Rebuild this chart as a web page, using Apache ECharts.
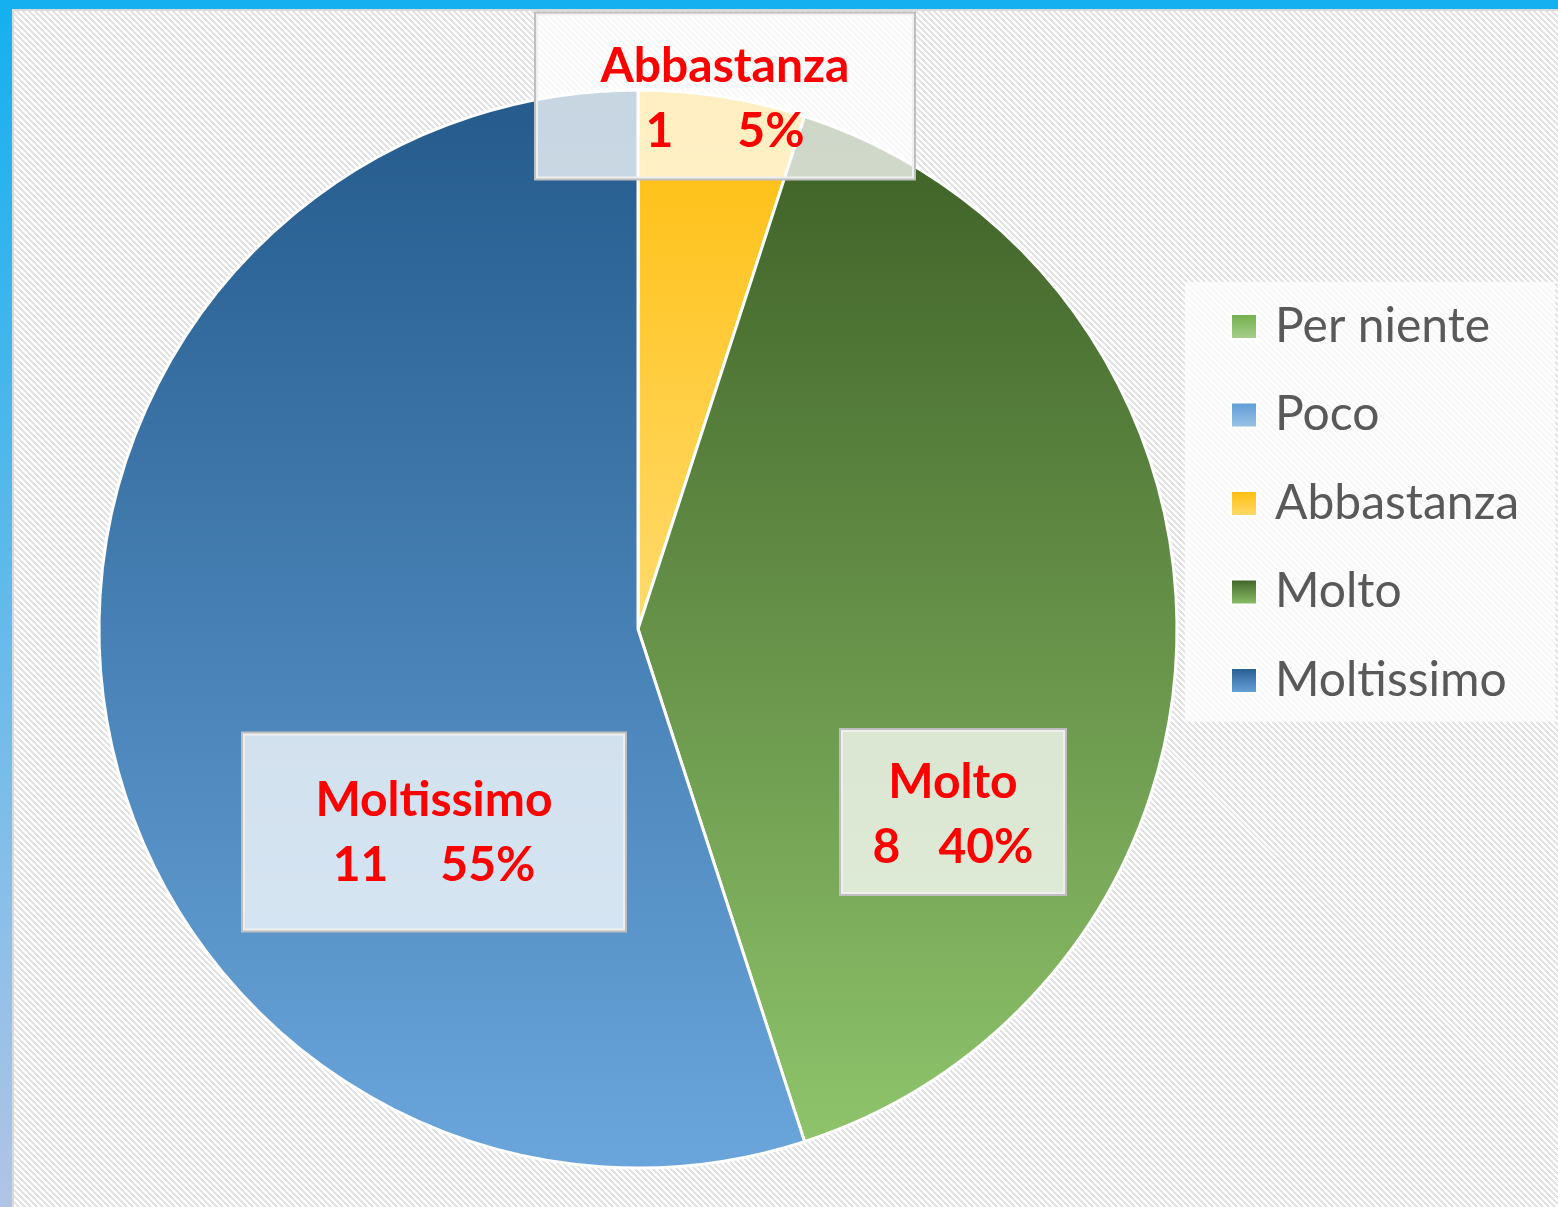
<!DOCTYPE html>
<html>
<head>
<meta charset="utf-8">
<script src="https://cdn.jsdelivr.net/npm/echarts@6/dist/echarts.min.js"></script>
<style>
  html, body { margin: 0; padding: 0; }
  #wrap { position: relative; width: 1558px; height: 1207px; overflow: hidden;
    background: repeating-linear-gradient(45deg, #e3e3e3 0px, #e3e3e3 2.12px, #ffffff 2.12px, #ffffff 4.24px); }
  #chart { position: absolute; left: 0; top: 0; width: 1558px; height: 1207px; }
  .bar-top { position: absolute; left: 0; top: 0; width: 1558px; height: 9px; background: #14b0ef; }
  .bar-left { position: absolute; left: 0; top: 0; width: 12px; height: 1207px; background: linear-gradient(to bottom, #14b0ef, #b1c4e6); }
  .line-top { position: absolute; left: 12px; top: 9px; width: 1546px; height: 2px; background: #d9d9d9; }
  .line-left { position: absolute; left: 12px; top: 9px; width: 2px; height: 1198px; background: #d9d9d9; }
</style>
</head>
<body>
<div id="wrap">
  <div id="chart"></div>
  <div class="line-top"></div>
  <div class="line-left"></div>
  <div class="bar-top"></div>
  <div class="bar-left"></div>
</div>
<script>
// ---- data ----
const categories = ['Per niente', 'Poco', 'Abbastanza', 'Molto', 'Moltissimo'];
const counts = [0, 0, 1, 8, 11];

// ---- styles ----
const gradTop = ['#70ad47', '#5b9bd5', '#ffbd0a', '#3d5f26', '#245a8c'];
const gradBottom = ['#a9d18e', '#9dc3e6', '#ffdb6e', '#8fc46b', '#6aa6dc'];
// label box centres as offsets from the pie centre, and gap between value and percent
const pieCenter = [638, 629];
const labelOffsets = { 2: [87, -533], 3: [315, 183], 4: [-204, 203] };
const labelBoxes = {
  2: { width: 378, padding: [21, 0, 14, 0], gap: 64 },
  3: { width: 224, padding: [20, 0, 14, 0], gap: 38 },
  4: { width: 382, padding: [35, 0, 32, 0], gap: 52 }
};

function grad(i) {
  return new echarts.graphic.LinearGradient(0, 0, 0, 1, [
    { offset: 0, color: gradTop[i] },
    { offset: 1, color: gradBottom[i] }
  ]);
}

const total = counts.reduce((a, b) => a + b, 0);
const pieData = categories.map((name, i) => {
  const item = { name: name, value: counts[i], itemStyle: { color: grad(i) } };
  if (counts[i] === 0) {
    item.label = { show: false };
  } else {
    const b = labelBoxes[i];
    item.label = {
      show: true,
      width: b.width,
      padding: b.padding,
      rich: {
        n: { fontSize: 48, fontWeight: 'bold', color: '#ff0000', fontFamily: 'Lato', lineHeight: 65, align: 'center' },
        v: { fontSize: 48, fontWeight: 'bold', color: '#ff0000', fontFamily: 'Lato', lineHeight: 65 },
        p: { fontSize: 48, fontWeight: 'bold', color: '#ff0000', fontFamily: 'Lato', lineHeight: 65, padding: [0, 0, 0, b.gap] }
      }
    };
  }
  return item;
});

const chart = echarts.init(document.getElementById('chart'), null, { renderer: 'canvas' });
chart.setOption({
  backgroundColor: 'transparent',
  animation: false,
  legend: {
    orient: 'vertical',
    left: 1185,
    top: 282,
    padding: [19.5, 36, 16.5, 45],
    backgroundColor: 'rgba(255,255,255,0.75)',
    icon: 'rect',
    itemWidth: 26,
    itemHeight: 25,
    itemGap: 38.5,
    selectedMode: false,
    data: categories,
    textStyle: { fontFamily: 'Lato', fontSize: 48, color: '#595959', lineHeight: 50, padding: [0, 0, 0, 13] }
  },
  series: [{
    type: 'pie',
    center: pieCenter,
    radius: 539,
    startAngle: 90,
    clockwise: true,
    avoidLabelOverlap: false,
    itemStyle: { borderColor: '#ffffff', borderWidth: 3 },
    label: {
      position: 'inside',
      align: 'center',
      backgroundColor: 'rgba(255,255,255,0.75)',
      borderColor: '#bfbfbf',
      borderWidth: 2,
      formatter: function (p) {
        const pct = Math.round(p.value / total * 100);
        return '{n|' + p.name + '}\n{v|' + p.value + '}{p|' + pct + '%}';
      }
    },
    labelLine: { show: false },
    labelLayout: function (params) {
      const off = labelOffsets[params.dataIndex];
      if (!off) return {};
      return {
        x: pieCenter[0] + off[0],
        y: pieCenter[1] + off[1],
        align: 'center',
        verticalAlign: 'middle'
      };
    },
    emphasis: { disabled: true },
    data: pieData
  }]
});
</script>
</body>
</html>
